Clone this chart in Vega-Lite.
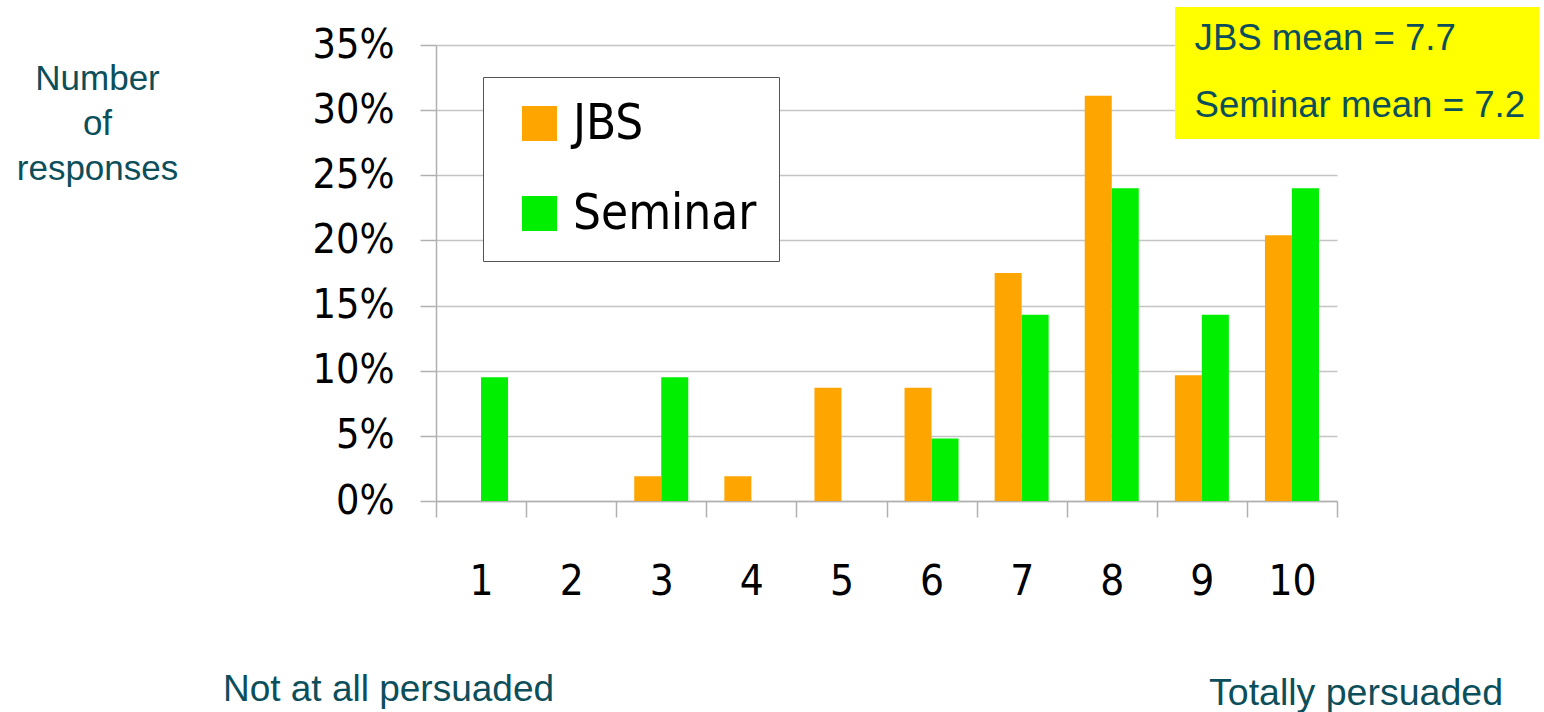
{
  "$schema": "https://vega.github.io/schema/vega-lite/v6.json",
  "autosize": {"type": "none"},
  "width": 901,
  "height": 456,
  "padding": {"left": 436, "top": 45, "right": 207, "bottom": 211},
  "background": "white",
  "config": {
    "view": {"stroke": null},
    "font": "DejaVu Sans Condensed"
  },
  "title": {
    "text": "Totally persuaded",
    "orient": "bottom",
    "anchor": "end",
    "frame": "group",
    "baseline": "alphabetic",
    "offset": 0,
    "dx": 166,
    "dy": -2,
    "font": "Liberation Sans",
    "fontSize": 37.5,
    "fontWeight": "normal",
    "color": "#0c4f5b"
  },
  "datasets": {
    "bars": [
      {"score": 1, "group": "JBS", "pct": 0},
      {"score": 1, "group": "Seminar", "pct": 0.095},
      {"score": 2, "group": "JBS", "pct": 0},
      {"score": 2, "group": "Seminar", "pct": 0},
      {"score": 3, "group": "JBS", "pct": 0.019},
      {"score": 3, "group": "Seminar", "pct": 0.095},
      {"score": 4, "group": "JBS", "pct": 0.019},
      {"score": 4, "group": "Seminar", "pct": 0},
      {"score": 5, "group": "JBS", "pct": 0.087},
      {"score": 5, "group": "Seminar", "pct": 0},
      {"score": 6, "group": "JBS", "pct": 0.087},
      {"score": 6, "group": "Seminar", "pct": 0.048},
      {"score": 7, "group": "JBS", "pct": 0.175},
      {"score": 7, "group": "Seminar", "pct": 0.143},
      {"score": 8, "group": "JBS", "pct": 0.311},
      {"score": 8, "group": "Seminar", "pct": 0.24},
      {"score": 9, "group": "JBS", "pct": 0.0965},
      {"score": 9, "group": "Seminar", "pct": 0.143},
      {"score": 10, "group": "JBS", "pct": 0.204},
      {"score": 10, "group": "Seminar", "pct": 0.24}
    ],
    "means": [
      {"stat": "JBS mean = 7.7"},
      {"stat": "Seminar mean = 7.2"}
    ]
  },
  "layer": [
    {
      "data": {"name": "bars"},
      "mark": {"type": "bar"},
      "encoding": {
        "x": {
          "field": "score",
          "type": "ordinal",
          "scale": {"paddingInner": 0, "paddingOuter": 0},
          "axis": {
            "labelAngle": 0,
            "labelFont": "DejaVu Sans Condensed",
            "labelFontSize": 42,
            "labelColor": "black",
            "labelPadding": 44,
            "tickBand": "extent",
            "tickSize": 16,
            "tickColor": "#b0b0b0",
            "tickWidth": 1.5,
            "domainColor": "#b0b0b0",
            "domainWidth": 1.5,
            "grid": false,
            "title": "Not at all persuaded",
            "titleFont": "Liberation Sans",
            "titleFontSize": 37,
            "titleFontWeight": "normal",
            "titleColor": "#0c4f5b",
            "titleX": -48,
            "titleY": 199,
            "titleAlign": "center",
            "titleBaseline": "alphabetic",
            "titleAngle": 0
          }
        },
        "xOffset": {
          "field": "group",
          "type": "nominal",
          "scale": {"paddingInner": 0, "paddingOuter": 0.668}
        },
        "y": {
          "field": "pct",
          "type": "quantitative",
          "scale": {"domain": [0, 0.35], "nice": false},
          "axis": {
            "values": [0, 0.05, 0.1, 0.15, 0.2, 0.25, 0.3, 0.35],
            "format": ".0%",
            "labelFont": "DejaVu Sans Condensed",
            "labelFontSize": 41,
            "labelColor": "black",
            "labelPadding": 26,
            "tickSize": 16,
            "tickColor": "#b0b0b0",
            "tickWidth": 1.5,
            "domainColor": "#b0b0b0",
            "domainWidth": 1.5,
            "grid": true,
            "gridColor": "#c4c4c4",
            "gridWidth": 1.5,
            "title": ["Number", "of", "responses"],
            "titleFont": "Liberation Sans",
            "titleFontSize": 35,
            "titleFontWeight": "normal",
            "titleColor": "#0c4f5b",
            "titleAngle": 0,
            "titleX": -339,
            "titleY": 33,
            "titleAlign": "center",
            "titleBaseline": "middle",
            "titleLineHeight": 45
          }
        },
        "color": {
          "field": "group",
          "type": "nominal",
          "scale": {"domain": ["JBS", "Seminar"], "range": ["#ffa500", "#00ee00"]},
          "legend": {
            "orient": "none",
            "legendX": 47,
            "legendY": 32,
            "title": null,
            "fillColor": "white",
            "strokeColor": "#555555",
            "padding": 22,
            "symbolOffset": 10,
            "symbolType": "square",
            "symbolSize": 1225,
            "symbolStrokeWidth": 0,
            "symbolOpacity": 1,
            "labelFont": "DejaVu Sans Condensed",
            "labelFontSize": 49,
            "labelColor": "black",
            "labelOffset": 9,
            "labelLimit": 400,
            "rowPadding": 40
          }
        }
      }
    },
    {
      "data": {"name": "means"},
      "mark": {"type": "point", "opacity": 0},
      "encoding": {
        "shape": {
          "field": "stat",
          "type": "nominal",
          "legend": {
            "orient": "none",
            "legendX": 739,
            "legendY": -38,
            "title": null,
            "fillColor": "#ffff00",
            "padding": 14,
            "symbolSize": 0,
            "symbolOpacity": 0,
            "symbolStrokeWidth": 0,
            "symbolOffset": 0,
            "labelFont": "Liberation Sans",
            "labelFontSize": 36.6,
            "labelColor": "#0c4f5b",
            "labelOffset": -31,
            "labelLimit": 500,
            "rowPadding": 30
          }
        }
      }
    }
  ]
}
